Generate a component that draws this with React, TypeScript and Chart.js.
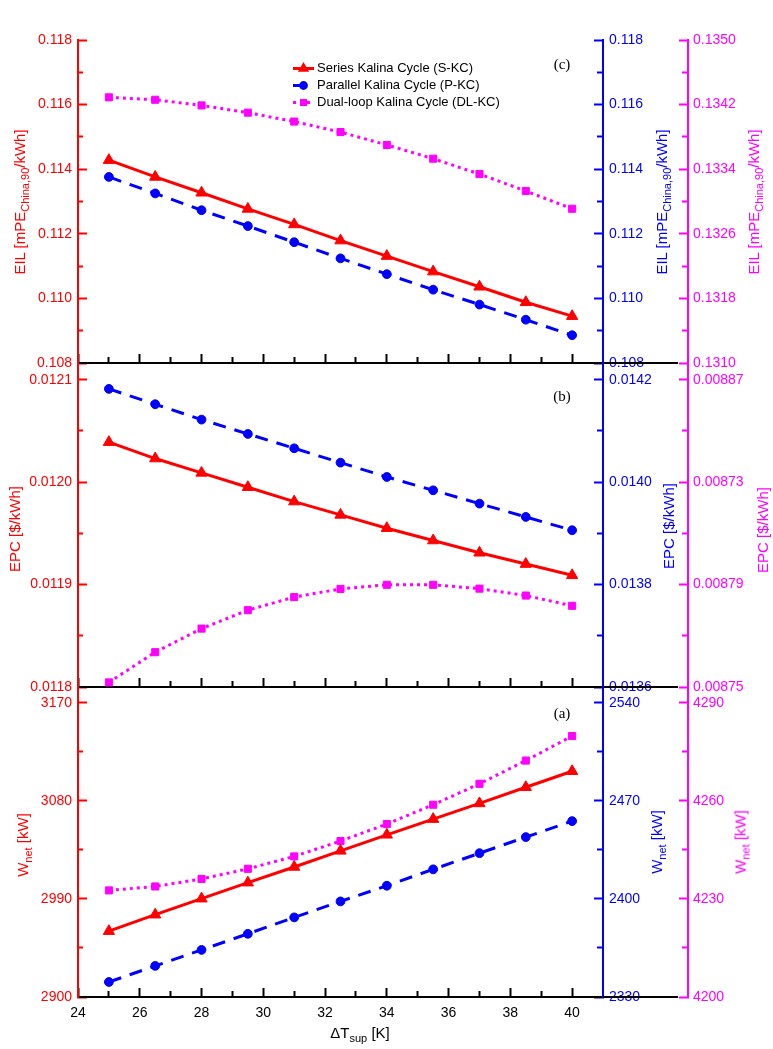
import React, { useEffect, useRef } from 'react';
import { Chart, registerables } from 'chart.js';

Chart.register(...registerables);

const RED = '#ff0000';
const BLUE = '#0000ff';
const MAGENTA = '#ff00ff';
const SANS = "'Liberation Sans', Arial, Helvetica, sans-serif";
const SERIF = "'Liberation Serif', 'Times New Roman', serif";

// ---------- data ----------
const seriesNames = ['Series Kalina Cycle (S-KC)', 'Parallel Kalina Cycle (P-KC)', 'Dual-loop Kalina Cycle (DL-KC)'];
const superheat = [25, 26.5, 28, 29.5, 31, 32.5, 34, 35.5, 37, 38.5, 40];

// (c) EIL [mPE China,90 / kWh]
const eilSKC = [0.11428, 0.11376, 0.11327, 0.11277, 0.11229, 0.11179, 0.11131, 0.11083, 0.11036, 0.10988, 0.10945];
const eilPKC = [0.11376, 0.11325, 0.11273, 0.11224, 0.11174, 0.11124, 0.11075, 0.11027, 0.10981, 0.10934, 0.10886];
const eilDLKC = [0.13429, 0.13426, 0.13419, 0.1341, 0.13399, 0.13386, 0.1337, 0.13353, 0.13334, 0.13313, 0.13291];

// (b) EPC [$/kWh]
const epcSKC = [0.012039, 0.012023, 0.012009, 0.011995, 0.011981, 0.011968, 0.011955, 0.011943, 0.011931, 0.01192, 0.011909];
const epcPKC = [0.014182, 0.014152, 0.014122, 0.014094, 0.014066, 0.014038, 0.01401, 0.013984, 0.013958, 0.013932, 0.013906];
const epcDLKC = [0.0087518, 0.0087636, 0.0087728, 0.00878, 0.0087851, 0.0087883, 0.0087899, 0.0087899, 0.0087884, 0.0087857, 0.0087817];

// (a) Wnet [kW]
const wnetSKC = [2960.4, 2975.5, 2990.2, 3004.9, 3019.3, 3034.1, 3048.8, 3063.2, 3077.6, 3092.4, 3107.1];
const wnetPKC = [2340.7, 2352.2, 2363.6, 2375.1, 2386.8, 2398.2, 2409.4, 2421.1, 2432.6, 2444.1, 2455.5];
const wnetDLKC = [4232.6, 4233.8, 4236.1, 4239.2, 4243.0, 4247.7, 4252.9, 4258.8, 4265.2, 4272.3, 4279.8];

// ---------- axes ----------
const xRange = [24, 41];
const xMajor = [24, 26, 28, 30, 32, 34, 36, 38, 40];
const xLabels = ['24', '26', '28', '30', '32', '34', '36', '38', '40'];
const xMinor = [25, 27, 29, 31, 33, 35, 37, 39];

const eilRedRange = [0.108, 0.118];
const eilRedMajor = [0.108, 0.11, 0.112, 0.114, 0.116, 0.118];
const eilRedLabels = ['0.108', '0.110', '0.112', '0.114', '0.116', '0.118'];
const eilRedMinor = [0.109, 0.111, 0.113, 0.115, 0.117];
const eilBlueRange = [0.108, 0.118];
const eilBlueMajor = [0.108, 0.11, 0.112, 0.114, 0.116, 0.118];
const eilBlueLabels = ['0.108', '0.110', '0.112', '0.114', '0.116', '0.118'];
const eilBlueMinor = [0.109, 0.111, 0.113, 0.115, 0.117];
const eilMagRange = [0.131, 0.135];
const eilMagMajor = [0.131, 0.1318, 0.1326, 0.1334, 0.1342, 0.135];
const eilMagLabels = ['0.1310', '0.1318', '0.1326', '0.1334', '0.1342', '0.1350'];
const eilMagMinor = [0.1314, 0.1322, 0.133, 0.1338, 0.1346];

const epcRedRange = [0.0118, 0.01211626];
const epcRedMajor = [0.0118, 0.0119, 0.012, 0.0121];
const epcRedLabels = ['0.0118', '0.0119', '0.0120', '0.0121'];
const epcRedMinor = [0.01185, 0.01195, 0.01205];
const epcBlueRange = [0.0136, 0.01423252];
const epcBlueMajor = [0.0136, 0.0138, 0.014, 0.0142];
const epcBlueLabels = ['0.0136', '0.0138', '0.0140', '0.0142'];
const epcBlueMinor = [0.0137, 0.0139, 0.0141];
const epcMagRange = [0.00875, 0.0088765];
const epcMagMajor = [0.00875, 0.00879, 0.00883, 0.00887];
const epcMagLabels = ['0.00875', '0.00879', '0.00873', '0.00887'];
const epcMagMinor = [0.00877, 0.00881, 0.00885];

const wnetRedRange = [2900, 3184.4];
const wnetRedMajor = [2900, 2990, 3080, 3170];
const wnetRedLabels = ['2900', '2990', '3080', '3170'];
const wnetRedMinor = [2945, 3035, 3125];
const wnetBlueRange = [2330, 2551.2];
const wnetBlueMajor = [2330, 2400, 2470, 2540];
const wnetBlueLabels = ['2330', '2400', '2470', '2540'];
const wnetBlueMinor = [2365, 2435, 2505];
const wnetMagRange = [4200, 4294.8];
const wnetMagMajor = [4200, 4230, 4260, 4290];
const wnetMagLabels = ['4200', '4230', '4260', '4290'];
const wnetMagMinor = [4215, 4245, 4275];

// ---------- helpers ----------
function tickSet(major: number[], labels: string[], minor: number[]) {
  const list = major.map((v, i) => ({ value: v, isMajor: true, lbl: labels[i] }))
    .concat(minor.map((v) => ({ value: v, isMajor: false, lbl: '' })));
  return list.sort((a, b) => a.value - b.value);
}

const TICK_FONT = { family: SANS, size: 14 };

function zeroPadding(s: any) {
  s.paddingTop = 0;
  s.paddingBottom = 0;
  s.paddingLeft = 0;
  s.paddingRight = 0;
}

function yScale(position: string, color: string, range: number[], ticks: any[], width: number, padding: number, weight: number) {
  const left = position === 'left';
  return {
    type: 'linear',
    position,
    weight,
    min: range[0],
    max: range[1],
    afterBuildTicks: (s: any) => { s.ticks = ticks.map((t) => ({ ...t })); },
    afterFit: (s: any) => { s.width = width; zeroPadding(s); },
    ticks: {
      autoSkip: false,
      color,
      font: TICK_FONT,
      padding,
      callback: (_v: any, i: number, arr: any[]) => (arr[i] && arr[i].lbl) || '',
    },
    grid: {
      drawOnChartArea: false,
      drawTicks: true,
      tickLength: -9,
      tickWidth: 2,
      tickColor: color,
      tickBorderDash: (c: any) => (c.tick && !c.tick.isMajor ? (left ? [6, 4] : [7, 100]) : []),
      tickBorderDashOffset: (c: any) => (c.tick && !c.tick.isMajor && left ? 6 : 0),
    },
    border: { display: true, color, width: 2 },
  };
}

function xScale(showLabels: boolean) {
  const ticks = tickSet(xMajor, xLabels, xMinor);
  return {
    type: 'linear',
    position: 'bottom',
    min: xRange[0],
    max: xRange[1],
    afterBuildTicks: (s: any) => { s.ticks = ticks.map((t) => ({ ...t })); },
    afterFit: (s: any) => { s.height = showLabels ? 30 : 0; zeroPadding(s); },
    ticks: {
      display: showLabels,
      autoSkip: false,
      maxRotation: 0,
      minRotation: 0,
      color: '#000',
      font: TICK_FONT,
      padding: 17,
      callback: (_v: any, i: number, arr: any[]) => (arr[i] && arr[i].lbl) || '',
    },
    grid: {
      drawOnChartArea: false,
      drawTicks: true,
      tickLength: -9,
      tickWidth: 2,
      tickColor: '#000',
      tickBorderDash: (c: any) => (c.tick && !c.tick.isMajor ? [7, 100] : []),
    },
    border: { display: true, color: '#000', width: 2 },
  };
}

function dataset(label: string, ys: number[], color: string, axis: string, pointStyle: string, radius: number, dash: number[]) {
  return {
    label,
    data: superheat.map((x, i) => ({ x, y: ys[i] })),
    yAxisID: axis,
    borderColor: color,
    backgroundColor: color,
    borderWidth: 3,
    borderDash: dash,
    pointStyle,
    pointRadius: radius,
    pointBackgroundColor: color,
    pointBorderColor: color,
    pointBorderWidth: 1,
    tension: 0,
    fill: false,
    clip: false,
  };
}

function drawMarker(ctx: CanvasRenderingContext2D, style: string, x: number, y: number, r: number) {
  ctx.beginPath();
  if (style === 'triangle') {
    ctx.moveTo(x, y - r);
    ctx.lineTo(x + r * 0.866, y + r / 2);
    ctx.lineTo(x - r * 0.866, y + r / 2);
    ctx.closePath();
  } else if (style === 'circle') {
    ctx.arc(x, y, r, 0, Math.PI * 2);
  } else {
    const s = r * Math.SQRT1_2;
    ctx.rect(x - s, y - s, 2 * s, 2 * s);
  }
  ctx.fill();
}

const legendPlugin = {
  id: 'cornerLegend',
  afterDraw(chart: any) {
    const { ctx, chartArea } = chart;
    const x0 = chartArea.left + 215;
    const x1 = x0 + 21;
    const xm = (x0 + x1) / 2;
    chart.data.datasets.forEach((ds: any, i: number) => {
      const y = chartArea.top + 28.5 + i * 17;
      ctx.save();
      ctx.strokeStyle = ds.borderColor;
      ctx.lineWidth = ds.borderWidth;
      ctx.setLineDash(ds.borderDash || []);
      ctx.beginPath();
      ctx.moveTo(x0, y);
      ctx.lineTo(x1, y);
      ctx.stroke();
      ctx.setLineDash([]);
      ctx.fillStyle = ds.pointBackgroundColor;
      drawMarker(ctx, ds.pointStyle, xm, y, ds.pointRadius);
      ctx.fillStyle = '#000';
      ctx.font = `13px ${SANS}`;
      ctx.textBaseline = 'middle';
      ctx.textAlign = 'left';
      ctx.fillText(ds.label, x1 + 3, y);
      ctx.restore();
    });
  },
};

const frameExtension = {
  id: 'frameExtension',
  afterDraw(chart: any) {
    const { ctx, chartArea, scales } = chart;
    const y = scales.x.top;
    ctx.save();
    ctx.strokeStyle = '#000';
    ctx.lineWidth = 2;
    ctx.beginPath();
    ctx.moveTo(chartArea.right, y);
    ctx.lineTo(scales.yM.left - 10, y);
    ctx.stroke();
    ctx.restore();
  },
};

type Panel = {
  s: number[]; p: number[]; d: number[];
  red: any[]; blue: any[]; mag: any[];
  redRange: number[]; blueRange: number[]; magRange: number[];
  padTop: number; padBottom: number; showX: boolean; legend: boolean;
};

const panelC: Panel = {
  s: eilSKC, p: eilPKC, d: eilDLKC,
  red: tickSet(eilRedMajor, eilRedLabels, eilRedMinor),
  blue: tickSet(eilBlueMajor, eilBlueLabels, eilBlueMinor),
  mag: tickSet(eilMagMajor, eilMagLabels, eilMagMinor),
  redRange: eilRedRange, blueRange: eilBlueRange, magRange: eilMagRange,
  padTop: 40, padBottom: 10, showX: false, legend: true,
};
const panelB: Panel = {
  s: epcSKC, p: epcPKC, d: epcDLKC,
  red: tickSet(epcRedMajor, epcRedLabels, epcRedMinor),
  blue: tickSet(epcBlueMajor, epcBlueLabels, epcBlueMinor),
  mag: tickSet(epcMagMajor, epcMagLabels, epcMagMinor),
  redRange: epcRedRange, blueRange: epcBlueRange, magRange: epcMagRange,
  padTop: 10, padBottom: 10, showX: false, legend: false,
};
const panelA: Panel = {
  s: wnetSKC, p: wnetPKC, d: wnetDLKC,
  red: tickSet(wnetRedMajor, wnetRedLabels, wnetRedMinor),
  blue: tickSet(wnetBlueMajor, wnetBlueLabels, wnetBlueMinor),
  mag: tickSet(wnetMagMajor, wnetMagLabels, wnetMagMinor),
  redRange: wnetRedRange, blueRange: wnetBlueRange, magRange: wnetMagRange,
  padTop: 10, padBottom: 22, showX: true, legend: false,
};

function buildConfig(p: Panel): any {
  return {
    type: 'line',
    data: {
      datasets: [
        dataset(seriesNames[0], p.s, RED, 'yR', 'triangle', 6.5, []),
        dataset(seriesNames[1], p.p, BLUE, 'yB', 'circle', 4.4, [13, 9]),
        dataset(seriesNames[2], p.d, MAGENTA, 'yM', 'rect', 5, [3, 4]),
      ],
    },
    options: {
      responsive: false,
      animation: false,
      devicePixelRatio: 1,
      events: [],
      layout: { autoPadding: false, padding: { top: p.padTop, bottom: p.padBottom, left: 0, right: 0 } },
      plugins: { legend: { display: false }, tooltip: { enabled: false }, title: { display: false } },
      scales: {
        x: xScale(p.showX),
        yR: yScale('left', RED, p.redRange, p.red, 78, 15, 0),
        yB: yScale('right', BLUE, p.blueRange, p.blue, 85, 15, 0),
        yM: yScale('right', MAGENTA, p.magRange, p.mag, 85, 14, 1),
      },
    },
    plugins: p.legend ? [frameExtension, legendPlugin] : [frameExtension],
  };
}

// ---------- overlay text ----------
const Sub = ({ children }: any) => (
  <span style={{ fontSize: 11, position: 'relative', top: 4 }}>{children}</span>
);

const VTitle = ({ x, y, color, children }: any) => (
  <div
    style={{
      position: 'absolute', left: x, top: y, color, font: `15px ${SANS}`, lineHeight: '17px',
      whiteSpace: 'nowrap', transform: 'translate(-50%, -50%) rotate(-90deg)',
    }}
  >
    {children}
  </div>
);

const PanelTag = ({ x, y, children }: any) => (
  <div
    style={{
      position: 'absolute', left: x, top: y, color: '#000', font: `15px ${SERIF}`, lineHeight: '17px',
      whiteSpace: 'nowrap', transform: 'translate(-50%, -50%)',
    }}
  >
    {children}
  </div>
);

const EilText = () => (<>EIL [mPE<Sub>China,90</Sub>/kWh]</>);
const EpcText = () => (<>EPC [$/kWh]</>);
const WnetText = () => (<>W<Sub>net</Sub> [kW]</>);

export default function App() {
  const refC = useRef<HTMLCanvasElement>(null);
  const refB = useRef<HTMLCanvasElement>(null);
  const refA = useRef<HTMLCanvasElement>(null);

  useEffect(() => {
    const charts = [
      new Chart(refC.current as HTMLCanvasElement, buildConfig(panelC)),
      new Chart(refB.current as HTMLCanvasElement, buildConfig(panelB)),
      new Chart(refA.current as HTMLCanvasElement, buildConfig(panelA)),
    ];
    return () => charts.forEach((c) => c.destroy());
  }, []);

  return (
    <div style={{ position: 'absolute', left: 0, top: 0, width: 773, height: 1049, background: '#fff', overflow: 'hidden' }}>
      <canvas ref={refC} width={773} height={373} style={{ position: 'absolute', left: 0, top: 0 }} />
      <canvas ref={refB} width={773} height={344} style={{ position: 'absolute', left: 0, top: 353 }} />
      <canvas ref={refA} width={773} height={372} style={{ position: 'absolute', left: 0, top: 677 }} />

      <VTitle x={20} y={202} color={RED}><EilText /></VTitle>
      <VTitle x={662} y={202} color={BLUE}><EilText /></VTitle>
      <VTitle x={754} y={202} color={MAGENTA}><EilText /></VTitle>

      <VTitle x={14} y={529} color={RED}><EpcText /></VTitle>
      <VTitle x={668} y={526} color={BLUE}><EpcText /></VTitle>
      <VTitle x={762} y={530} color={MAGENTA}><EpcText /></VTitle>

      <VTitle x={23} y={845} color={RED}><WnetText /></VTitle>
      <VTitle x={657} y={842} color={BLUE}><WnetText /></VTitle>
      <VTitle x={741} y={842} color={MAGENTA}><WnetText /></VTitle>

      <div
        style={{
          position: 'absolute', left: 360, top: 1033, color: '#000', font: `15px ${SANS}`, lineHeight: '17px',
          whiteSpace: 'nowrap', transform: 'translate(-50%, -50%)',
        }}
      >
        ΔT<Sub>sup</Sub> [K]
      </div>

      <PanelTag x={562} y={64} >(c)</PanelTag>
      <PanelTag x={562} y={396} >(b)</PanelTag>
      <PanelTag x={562} y={713} >(a)</PanelTag>
    </div>
  );
}
